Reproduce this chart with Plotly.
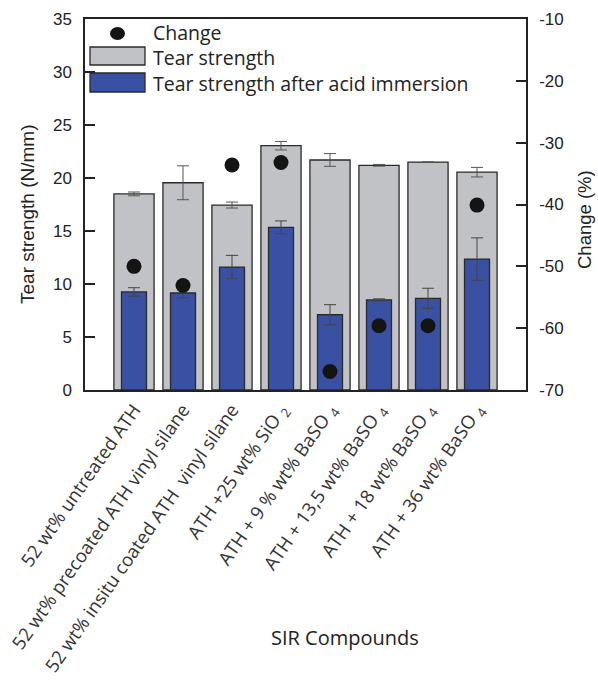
import plotly.graph_objects as go

# SIR compound categories
compounds = [
    "52 wt% untreated ATH",
    "52 wt% precoated ATH vinyl silane",
    "52 wt% insitu coated ATH  vinyl silane",
    "ATH +25 wt% SiO <sub>2</sub>",
    "ATH + 9 % wt% BaSO <sub>4</sub>",
    "ATH + 13,5 wt% BaSO <sub>4</sub>",
    "ATH + 18 wt% BaSO <sub>4</sub>",
    "ATH + 36 wt% BaSO <sub>4</sub>",
]

# Tear strength before immersion (N/mm) and its error
tear = [18.5, 19.55, 17.45, 23.05, 21.7, 21.2, 21.5, 20.55]
tear_err = [0.18, 1.6, 0.28, 0.4, 0.6, 0.08, 0.0, 0.45]

# Tear strength after acid immersion (N/mm) and its error
tear_acid = [9.25, 9.15, 11.6, 15.35, 7.1, 8.5, 8.65, 12.35]
tear_acid_err = [0.4, 0.45, 1.1, 0.6, 0.95, 0.1, 0.95, 2.0]

# Relative change (%)
change = [-50.0, -53.1, -33.6, -33.2, -67.0, -59.6, -59.6, -40.1]

left_ticks = [0, 5, 10, 15, 20, 25, 30, 35]
right_ticks = [-70, -60, -50, -40, -30, -20, -10]
right_tick_labels = ["-70", "-60", "-50", "-40", "-30", "-20", "-10"]

legend_labels = ["Change", "Tear strength", "Tear strength after acid immersion"]

GRAY = "#c1c2c5"
BLUE = "#3a51a3"
EDGE = "#2a2a2a"
DOT = "#141414"
TXT = "#222222"

W, H = 598, 692
ML, MR, MT, MB = 85, 72, 19, 302
PW, PH = W - ML - MR, H - MT - MB


def px(x):
    return (x - ML) / PW


def py(y):
    return (H - MB - y) / PH


fig = go.Figure()

fig.add_trace(go.Bar(
    x=compounds, y=tear, width=0.82, name=legend_labels[1],
    marker=dict(color=GRAY, line=dict(color=EDGE, width=1.3)),
    error_y=dict(type="data", array=tear_err, color="#555555", thickness=1, width=6),
))
fig.add_trace(go.Bar(
    x=compounds, y=tear_acid, width=0.51, name=legend_labels[2],
    marker=dict(color=BLUE, line=dict(color=EDGE, width=1.3)),
    error_y=dict(type="data", array=tear_acid_err, color="#444444", thickness=1, width=6),
))
fig.add_trace(go.Scatter(
    x=compounds, y=change, yaxis="y2", mode="markers", name=legend_labels[0],
    marker=dict(symbol="circle", size=15, color=DOT),
))

tickfont = dict(family="Liberation Sans, Arial", size=17, color=TXT)

fig.update_layout(
    width=W, height=H,
    margin=dict(l=ML, r=MR, t=MT, b=MB, autoexpand=False),
    paper_bgcolor="white", plot_bgcolor="white",
    barmode="overlay",
    showlegend=False,
    xaxis=dict(
        range=[-1, 8], type="category", automargin=False,
        showline=True, linecolor="#222", linewidth=1.5, mirror=True,
        ticks="", tickangle=-55, showgrid=False,
        tickfont=dict(family="Open Sans", size=18.5, color="#333"),
    ),
    yaxis=dict(
        range=[0, 35], tickvals=left_ticks, automargin=False,
        showline=True, linecolor="#222", linewidth=1.5,
        ticks="inside", ticklen=10, tickcolor="#222", tickwidth=1.5,
        ticklabelstandoff=8,
        showgrid=False, zeroline=False, tickfont=tickfont,
    ),
    yaxis2=dict(
        range=[-70, -10], tickvals=right_ticks, ticktext=right_tick_labels,
        overlaying="y", side="right", automargin=False,
        showline=True, linecolor="#222", linewidth=1.5,
        ticks="inside", ticklen=10, tickcolor="#222", tickwidth=1.5,
        ticklabelstandoff=8,
        showgrid=False, zeroline=False, tickfont=tickfont,
    ),
)

# Axis titles
title_font = dict(family="Liberation Sans, Arial", size=19, color=TXT)
fig.add_annotation(text="Tear strength (N/mm)", x=px(27), y=py(215), xref="paper", yref="paper",
                   xanchor="center", yanchor="middle", textangle=-90, showarrow=False,
                   font=title_font)
fig.add_annotation(text="Change (%)", x=px(584), y=py(220), xref="paper", yref="paper",
                   xanchor="center", yanchor="middle", textangle=-90, showarrow=False,
                   font=dict(family="Liberation Sans, Arial", size=18.5, color=TXT))
fig.add_annotation(text="SIR Compounds", x=px(345), y=py(637), xref="paper", yref="paper",
                   xanchor="center", yanchor="middle", showarrow=False,
                   font=dict(family="Open Sans", size=20, color=TXT))

# Legend drawn in the upper-left corner of the plot
fig.add_shape(type="circle", xref="paper", yref="paper",
              x0=px(110), x1=px(125), y0=py(40), y1=py(27),
              fillcolor=DOT, line=dict(color=DOT, width=0))
fig.add_shape(type="rect", xref="paper", yref="paper",
              x0=px(90), x1=px(145), y0=py(65), y1=py(47),
              fillcolor=GRAY, line=dict(color=EDGE, width=1.3))
fig.add_shape(type="rect", xref="paper", yref="paper",
              x0=px(90), x1=px(145), y0=py(92), y1=py(73),
              fillcolor=BLUE, line=dict(color=EDGE, width=1.3))
fig.add_annotation(text="<br>".join(legend_labels), x=px(151), y=py(58), xref="paper", yref="paper",
                   xanchor="left", yanchor="middle", align="left", showarrow=False,
                   font=dict(family="Open Sans", size=19.5, color=TXT))

fig.write_html("out.html")
